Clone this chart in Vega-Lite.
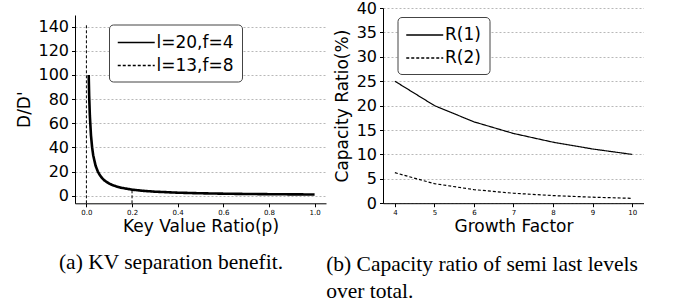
{
  "$schema": "https://vega.github.io/schema/vega-lite/v6.json",
  "padding": {"left": 15, "top": 0, "right": 0, "bottom": 0},
  "background": "white",
  "spacing": 0,
  "resolve": {"scale": {"strokeDash": "independent"}, "legend": {"strokeDash": "independent"}},
  "config": {
    "font": "DejaVu Sans",
    "view": {"stroke": null},
    "axis": {
      "domainColor": "black", "domainWidth": 1, "tickColor": "black", "tickSize": 3.5, "tickWidth": 1,
      "labelColor": "black", "titleColor": "black", "titleFontWeight": "normal",
      "labelFont": "DejaVu Sans", "titleFont": "DejaVu Sans"
    },
    "title": {"font": "Liberation Serif", "fontWeight": "normal", "fontSize": 21.5, "color": "black"},
    "legend": {
      "orient": "none", "labelFontSize": 17, "labelFont": "DejaVu Sans", "labelColor": "black",
      "symbolType": "M-1,0H3", "symbolSize": 342, "symbolStrokeColor": "black", "symbolStrokeWidth": 1.3,
      "symbolFillColor": "transparent",
      "fillColor": "white", "strokeColor": "#444444", "cornerRadius": 4, "padding": 8,
      "rowPadding": 5, "labelOffset": 19.5
    }
  },
  "hconcat": [
    {
      "title": {"text": "(a) KV separation benefit.", "orient": "bottom", "anchor": "middle", "offset": 18},
      "vconcat": [
        {
          "width": 251,
          "height": 195.3,
          "data": {"values": [
            {"series": "l=13,f=8", "seg": "a", "o": 1, "p": 0.0, "v": -6.3},
            {"series": "l=13,f=8", "seg": "a", "o": 2, "p": 0.0, "v": 142.6},
            {"series": "l=13,f=8", "seg": "b", "o": 1, "p": 0.2, "v": -6.3},
            {"series": "l=13,f=8", "seg": "b", "o": 2, "p": 0.2, "v": 5.0},
            {"series": "l=20,f=4", "seg": "c", "o": 1, "p": 0.01, "v": 100},
            {"series": "l=20,f=4", "seg": "c", "o": 2, "p": 0.012, "v": 83.3},
            {"series": "l=20,f=4", "seg": "c", "o": 3, "p": 0.015, "v": 66.7},
            {"series": "l=20,f=4", "seg": "c", "o": 4, "p": 0.02, "v": 50},
            {"series": "l=20,f=4", "seg": "c", "o": 5, "p": 0.025, "v": 40},
            {"series": "l=20,f=4", "seg": "c", "o": 6, "p": 0.03, "v": 33.3},
            {"series": "l=20,f=4", "seg": "c", "o": 7, "p": 0.04, "v": 25},
            {"series": "l=20,f=4", "seg": "c", "o": 8, "p": 0.05, "v": 20},
            {"series": "l=20,f=4", "seg": "c", "o": 9, "p": 0.06, "v": 16.7},
            {"series": "l=20,f=4", "seg": "c", "o": 10, "p": 0.07, "v": 14.3},
            {"series": "l=20,f=4", "seg": "c", "o": 11, "p": 0.08, "v": 12.5},
            {"series": "l=20,f=4", "seg": "c", "o": 12, "p": 0.1, "v": 10},
            {"series": "l=20,f=4", "seg": "c", "o": 13, "p": 0.12, "v": 8.33},
            {"series": "l=20,f=4", "seg": "c", "o": 14, "p": 0.15, "v": 6.67},
            {"series": "l=20,f=4", "seg": "c", "o": 15, "p": 0.2, "v": 5},
            {"series": "l=20,f=4", "seg": "c", "o": 16, "p": 0.25, "v": 4},
            {"series": "l=20,f=4", "seg": "c", "o": 17, "p": 0.3, "v": 3.33},
            {"series": "l=20,f=4", "seg": "c", "o": 18, "p": 0.4, "v": 2.5},
            {"series": "l=20,f=4", "seg": "c", "o": 19, "p": 0.5, "v": 2},
            {"series": "l=20,f=4", "seg": "c", "o": 20, "p": 0.6, "v": 1.67},
            {"series": "l=20,f=4", "seg": "c", "o": 21, "p": 0.7, "v": 1.43},
            {"series": "l=20,f=4", "seg": "c", "o": 22, "p": 0.8, "v": 1.25},
            {"series": "l=20,f=4", "seg": "c", "o": 23, "p": 0.9, "v": 1.11},
            {"series": "l=20,f=4", "seg": "c", "o": 24, "p": 1.0, "v": 1}
          ]},
          "encoding": {
            "x": {"field": "p", "type": "quantitative",
              "scale": {"domain": [-0.05, 1.05], "nice": false, "zero": false},
              "axis": {"values": [0, 0.2, 0.4, 0.6, 0.8, 1.0], "format": ".1f", "labelFontSize": 7,
                "labelPadding": 2, "grid": false, "title": "Key Value Ratio(p)", "titleFontSize": 17, "titlePadding": 2.5}},
            "y": {"field": "v", "type": "quantitative",
              "scale": {"domain": [-6.3, 149.7], "nice": false, "zero": false, "range": [195.3, 7]},
              "axis": {"values": [0, 20, 40, 60, 80, 100, 120, 140], "labelFontSize": 16, "labelPadding": 3,
                "grid": true, "gridColor": "#b8b8b8", "gridDash": [2, 2], "gridWidth": 1,
                "title": "D/D'", "titleFontSize": 17, "titlePadding": 4}},
            "strokeDash": {"field": "series", "type": "nominal",
              "scale": {"domain": ["l=20,f=4", "l=13,f=8"], "range": [[1, 0], [3, 2]]},
              "legend": {"title": null, "legendX": 34, "legendY": 16.5}},
            "detail": {"field": "seg"},
            "order": {"field": "o"}
          },
          "layer": [
            {"transform": [{"filter": "datum.series == 'l=13,f=8'"}],
             "mark": {"type": "line", "color": "black", "strokeWidth": 1}},
            {"transform": [{"filter": "datum.series == 'l=20,f=4'"}],
             "mark": {"type": "line", "color": "black", "strokeWidth": 2.6}}
          ]
        }
      ]
    },
    {
      "title": {"text": ["(b) Capacity ratio of semi last levels", "over total."], "orient": "bottom", "anchor": "start", "dx": -7, "offset": 20, "lineHeight": 27},
      "vconcat": [
        {
          "width": 261,
          "height": 195.2,
          "data": {"values": [
            {"s": "R(1)", "f": 4, "r": 25},
            {"s": "R(1)", "f": 5, "r": 20},
            {"s": "R(1)", "f": 6, "r": 16.67},
            {"s": "R(1)", "f": 7, "r": 14.29},
            {"s": "R(1)", "f": 8, "r": 12.5},
            {"s": "R(1)", "f": 9, "r": 11.11},
            {"s": "R(1)", "f": 10, "r": 10},
            {"s": "R(2)", "f": 4, "r": 6.25},
            {"s": "R(2)", "f": 5, "r": 4},
            {"s": "R(2)", "f": 6, "r": 2.78},
            {"s": "R(2)", "f": 7, "r": 2.04},
            {"s": "R(2)", "f": 8, "r": 1.56},
            {"s": "R(2)", "f": 9, "r": 1.23},
            {"s": "R(2)", "f": 10, "r": 1.0}
          ]},
          "mark": {"type": "line", "color": "black", "strokeWidth": 1.2},
          "encoding": {
            "x": {"field": "f", "type": "quantitative",
              "scale": {"domain": [3.7, 10.3], "nice": false, "zero": false},
              "axis": {"values": [4, 5, 6, 7, 8, 9, 10], "format": "d", "labelFontSize": 7,
                "labelPadding": 2, "grid": false, "title": "Growth Factor", "titleFontSize": 17, "titlePadding": 2.5}},
            "y": {"field": "r", "type": "quantitative",
              "scale": {"domain": [0, 40], "nice": false, "zero": false},
              "axis": {"values": [0, 5, 10, 15, 20, 25, 30, 35, 40], "labelFontSize": 16, "labelPadding": 3,
                "grid": true, "gridColor": "#b8b8b8", "gridDash": [2, 2], "gridWidth": 1,
                "title": "Capacity Ratio(%)", "titleFontSize": 17, "titlePadding": 5}},
            "strokeDash": {"field": "s", "type": "nominal",
              "scale": {"domain": ["R(1)", "R(2)"], "range": [[1, 0], [3, 2]]},
              "legend": {"title": null, "legendX": 14.5, "legendY": 9}}
          }
        }
      ]
    }
  ]
}
